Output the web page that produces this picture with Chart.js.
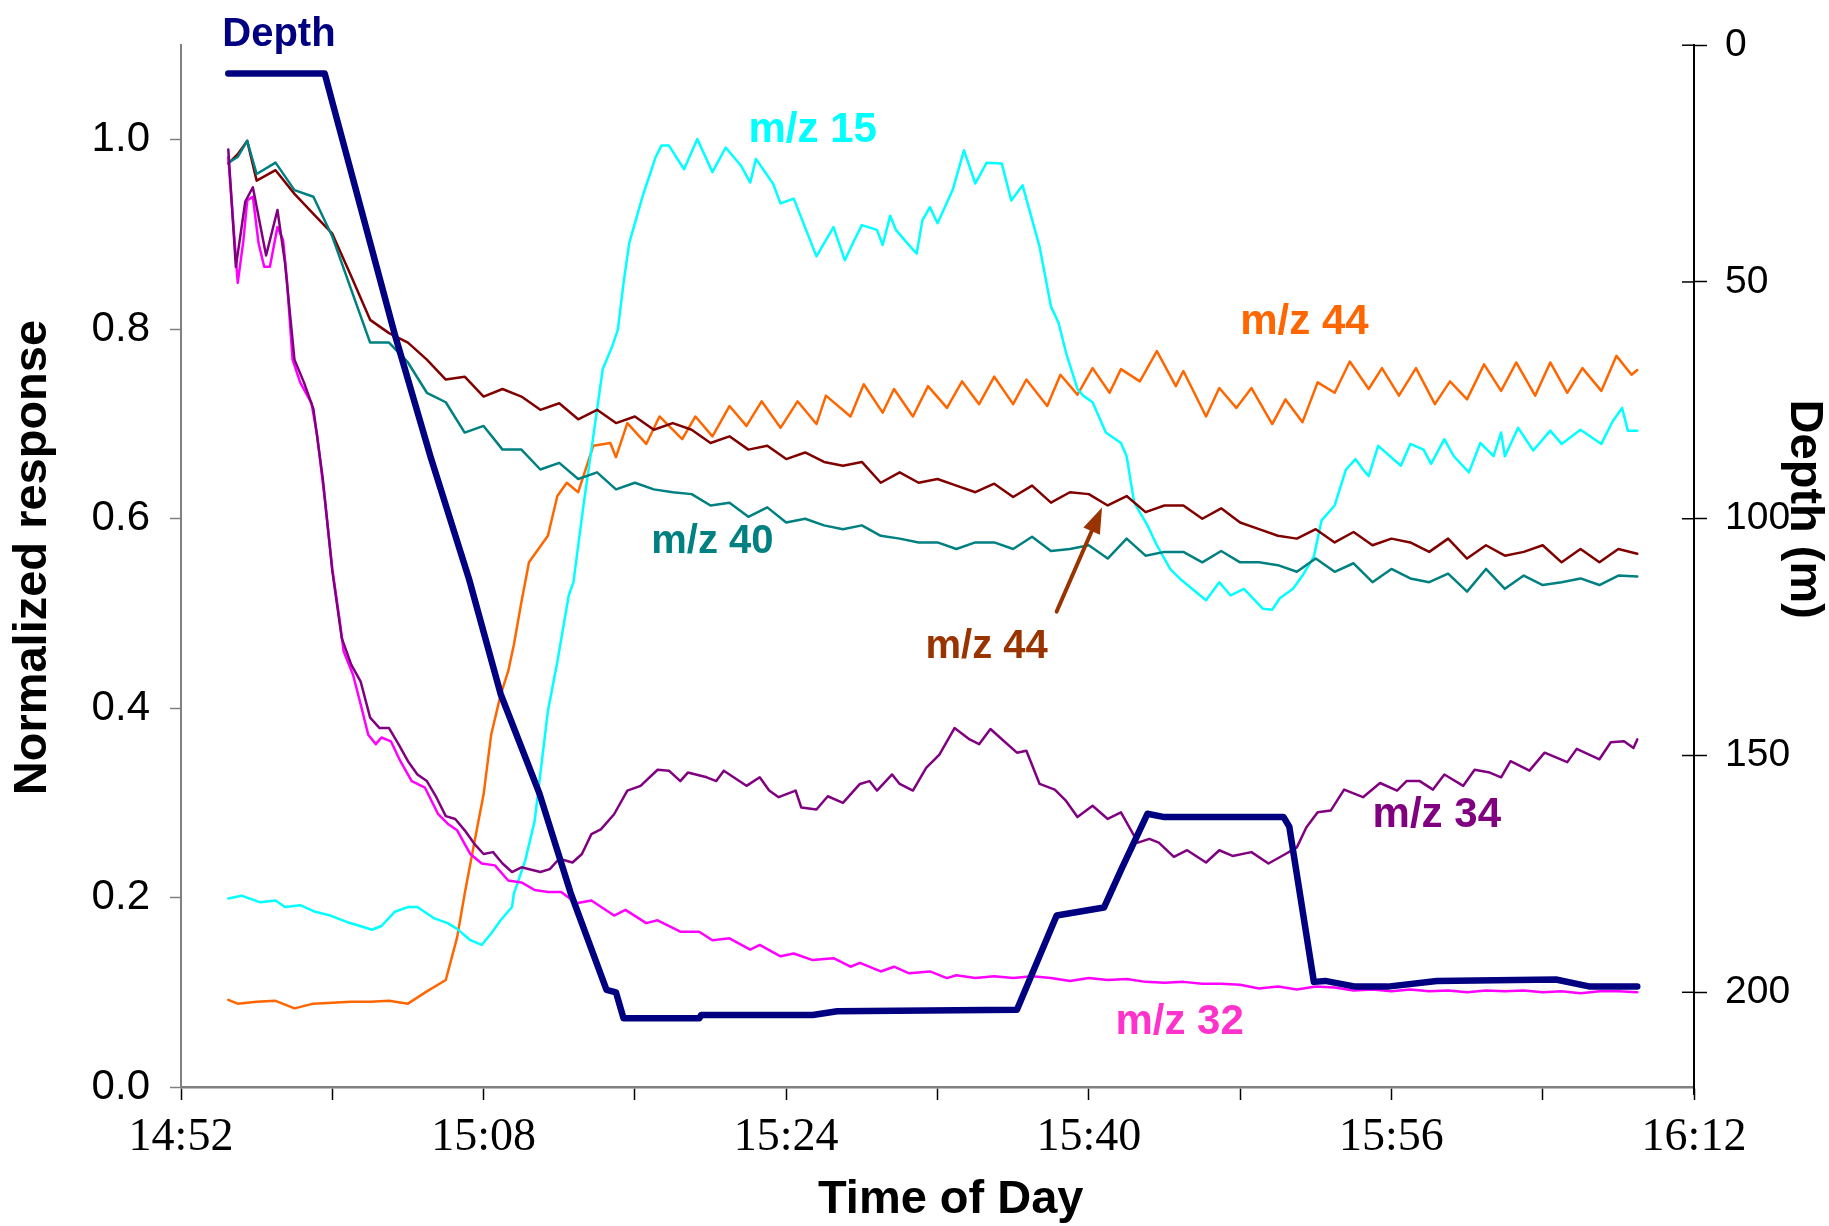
<!DOCTYPE html>
<html>
<head>
<meta charset="utf-8">
<title>Normalized response and depth vs time of day</title>
<script src="https://cdn.jsdelivr.net/npm/chart.js@4.4.1/dist/chart.umd.min.js"></script>
<style>
  html, body { margin: 0; padding: 0; background: #fff; }
  #wrap { width: 1829px; height: 1226px; position: relative; }
</style>
</head>
<body>
<div id="wrap"><canvas id="chart"></canvas></div>
<script>
// Time is in minutes after 14:52
const xTickMinutes = [0, 8, 16, 24, 32, 40, 48, 56, 64, 72, 80];
const xTickLabels = ['14:52', '15:08', '15:24', '15:40', '15:56', '16:12'];
const leftTicks = [0, 0.2, 0.4, 0.6, 0.8, 1.0];
const depthTicks = [0, 50, 100, 150, 200];

// Depth (m), right axis
const depthTime = [2.5, 7.6, 8.0, 11.3, 13.2, 15.25, 16.9, 18.95, 20.6, 22.5, 23.0, 23.4, 27.4, 27.5, 33.4, 34.7, 44.2, 46.3, 48.8, 49.75, 51.1, 52.0, 58.3, 58.6, 59.9, 60.5, 62.1, 63.8, 66.4, 72.7, 74.5, 77.0];
const depthValue = [6, 6, 12, 61, 87, 113, 137, 158, 179, 199.5, 200, 205.5, 205.5, 204.8, 204.8, 204, 203.7, 183.8, 182.1, 173.8, 162.3, 163, 163, 165, 197.8, 197.6, 198.8, 198.8, 197.6, 197.3, 198.8, 198.8];

// shared grid for m/z 44 (dark red) and m/z 40
const minuteGrid = [2.5, 3, 3.5, 4, 5, 6, 7, 8, 9, 10, 11, 12, 13, 14, 15, 16, 17, 18, 19, 20, 21, 22, 23, 24, 25, 26, 27, 28, 29, 30, 31, 32, 33, 34, 35, 36, 37, 38, 39, 40, 41, 42, 43, 44, 45, 46, 47, 48, 49, 50, 51, 52, 53, 54, 55, 56, 57, 58, 59, 60, 61, 62, 63, 64, 65, 66, 67, 68, 69, 70, 71, 72, 73, 74, 75, 76, 77];
const mz44RedValue = [0.975, 0.985, 0.999, 0.957, 0.968, 0.943, 0.922, 0.901, 0.856, 0.810, 0.796, 0.786, 0.768, 0.747, 0.750, 0.729, 0.737, 0.729, 0.715, 0.722, 0.705, 0.715, 0.701, 0.708, 0.694, 0.701, 0.694, 0.680, 0.687, 0.673, 0.677, 0.663, 0.670, 0.660, 0.656, 0.660, 0.638, 0.649, 0.638, 0.642, 0.635, 0.628, 0.637, 0.623, 0.635, 0.617, 0.628, 0.626, 0.614, 0.624, 0.607, 0.614, 0.614, 0.600, 0.611, 0.596, 0.589, 0.582, 0.579, 0.589, 0.575, 0.586, 0.572, 0.579, 0.575, 0.565, 0.579, 0.558, 0.572, 0.561, 0.565, 0.572, 0.554, 0.568, 0.554, 0.568, 0.563];
const mz40Value = [0.976, 0.982, 0.999, 0.964, 0.976, 0.947, 0.940, 0.898, 0.842, 0.786, 0.786, 0.765, 0.733, 0.723, 0.691, 0.698, 0.673, 0.673, 0.652, 0.659, 0.642, 0.649, 0.631, 0.638, 0.631, 0.628, 0.626, 0.614, 0.617, 0.602, 0.612, 0.596, 0.600, 0.593, 0.589, 0.593, 0.582, 0.579, 0.575, 0.575, 0.568, 0.575, 0.575, 0.568, 0.581, 0.566, 0.568, 0.572, 0.558, 0.579, 0.561, 0.565, 0.565, 0.554, 0.566, 0.554, 0.554, 0.551, 0.544, 0.558, 0.544, 0.553, 0.533, 0.547, 0.537, 0.533, 0.542, 0.523, 0.547, 0.526, 0.540, 0.530, 0.533, 0.537, 0.530, 0.540, 0.539];

// m/z 44 (orange)
const mz44Time = [2.5, 3, 4, 5, 6, 7, 8, 9, 10, 11, 12, 13, 14, 14.6, 15, 15.5, 16, 16.4, 16.9, 17.3, 17.6, 18, 18.4, 19.4, 19.9, 20.4, 21, 21.8, 22.7, 23, 23.6, 24.6, 25.3, 26.5, 27.2, 28.1, 29, 29.9, 30.7, 31.7, 32.6, 33.6, 34.1, 35.4, 36.1, 37.1, 37.7, 38.7, 39.5, 40.5, 41.3, 42.2, 43, 44, 44.7, 45.8, 46.5, 47.4, 48.2, 49.1, 49.7, 50.7, 51.6, 52.6, 53, 54.2, 54.9, 55.8, 56.6, 57.7, 58.4, 59.3, 60.1, 61, 61.8, 62.8, 63.5, 64.4, 65.3, 66.3, 67.1, 68, 68.9, 69.8, 70.6, 71.6, 72.4, 73.3, 74.1, 75.1, 75.9, 76.7, 77];
const mz44Value = [0.092, 0.088, 0.090, 0.091, 0.083, 0.088, 0.089, 0.090, 0.090, 0.091, 0.088, 0.101, 0.113, 0.158, 0.204, 0.257, 0.309, 0.372, 0.414, 0.439, 0.467, 0.512, 0.554, 0.582, 0.624, 0.638, 0.628, 0.677, 0.680, 0.665, 0.701, 0.679, 0.708, 0.684, 0.708, 0.687, 0.719, 0.698, 0.724, 0.696, 0.724, 0.700, 0.730, 0.708, 0.742, 0.712, 0.737, 0.708, 0.740, 0.717, 0.745, 0.721, 0.750, 0.721, 0.747, 0.719, 0.752, 0.731, 0.759, 0.733, 0.758, 0.745, 0.777, 0.740, 0.756, 0.708, 0.738, 0.717, 0.738, 0.700, 0.726, 0.702, 0.744, 0.733, 0.766, 0.737, 0.759, 0.730, 0.759, 0.721, 0.745, 0.726, 0.763, 0.735, 0.765, 0.730, 0.765, 0.733, 0.759, 0.735, 0.772, 0.752, 0.757];

// m/z 15
const mz15Time = [2.5, 3.2, 4.2, 5, 5.5, 6.3, 7.1, 7.9, 8.8, 9.3, 10.1, 10.6, 11.3, 12, 12.5, 13.4, 14.1, 14.6, 15.3, 15.9, 16.4, 16.9, 17.5, 17.6, 18.2, 18.7, 19.4, 19.9, 20.5, 20.75, 21.3, 21.8, 22.3, 22.8, 23.1, 23.4, 23.7, 24.1, 24.4, 25.1, 25.4, 25.8, 26.6, 27.3, 28.1, 28.8, 29.6, 30.1, 30.4, 31.3, 31.7, 32.4, 33.6, 34.5, 35.1, 35.6, 36, 36.8, 37.1, 37.5, 37.8, 38.4, 38.9, 39.2, 39.6, 40, 40.8, 41.4, 42, 42.6, 43.4, 43.9, 44.5, 45.4, 46, 46.4, 46.8, 47.4, 47.7, 48.2, 48.9, 49.7, 50, 50.4, 51.1, 51.6, 52.3, 52.8, 54.2, 54.9, 55.5, 56.2, 57.2, 57.7, 58.1, 58.8, 59.3, 59.9, 60.3, 61, 61.6, 62.1, 62.5, 62.8, 63.3, 64.5, 65, 65.7, 66.1, 66.8, 67.3, 68.1, 68.7, 69.4, 69.8, 70, 70.7, 71.5, 72.4, 73, 74, 75.1, 75.7, 76.2, 76.5, 77];
const mz15Value = [0.199, 0.202, 0.195, 0.197, 0.190, 0.192, 0.185, 0.181, 0.174, 0.171, 0.166, 0.170, 0.185, 0.190, 0.190, 0.178, 0.173, 0.167, 0.155, 0.150, 0.162, 0.176, 0.190, 0.204, 0.239, 0.281, 0.397, 0.449, 0.519, 0.533, 0.617, 0.687, 0.758, 0.782, 0.800, 0.849, 0.891, 0.919, 0.940, 0.982, 0.994, 0.994, 0.969, 1.001, 0.966, 0.992, 0.973, 0.955, 0.980, 0.954, 0.933, 0.938, 0.877, 0.908, 0.873, 0.894, 0.910, 0.905, 0.889, 0.920, 0.905, 0.891, 0.880, 0.915, 0.929, 0.912, 0.947, 0.989, 0.954, 0.976, 0.975, 0.936, 0.952, 0.887, 0.824, 0.807, 0.775, 0.737, 0.730, 0.723, 0.691, 0.680, 0.666, 0.617, 0.593, 0.572, 0.547, 0.537, 0.514, 0.533, 0.519, 0.526, 0.505, 0.504, 0.516, 0.526, 0.540, 0.560, 0.598, 0.614, 0.652, 0.663, 0.652, 0.645, 0.677, 0.656, 0.679, 0.673, 0.658, 0.684, 0.666, 0.649, 0.680, 0.666, 0.691, 0.666, 0.696, 0.672, 0.693, 0.679, 0.694, 0.679, 0.703, 0.717, 0.693, 0.693];

// m/z 34
const mz34Time = [2.5, 2.9, 3.4, 3.8, 4.5, 5.1, 5.5, 6, 6.5, 7, 7.5, 8, 8.5, 9, 9.5, 10, 10.5, 11, 11.5, 12, 12.5, 13, 13.5, 14, 14.5, 15, 15.5, 16, 16.5, 17, 17.5, 18, 19, 19.5, 20, 20.7, 21.2, 21.7, 22.2, 22.9, 23.6, 24.3, 25.2, 25.8, 26.4, 26.8, 27.8, 28.3, 28.7, 29.9, 30.6, 31.1, 31.6, 32.5, 32.8, 33.6, 34.2, 35, 35.9, 36.4, 36.8, 37.6, 38, 38.7, 39.4, 40.1, 40.9, 41.7, 42.2, 42.8, 43.3, 44.2, 44.7, 45.4, 46.2, 46.8, 47.4, 48.2, 49, 49.7, 50.6, 51.2, 51.7, 52.5, 53.2, 54.2, 54.9, 55.6, 56.6, 57.5, 58.4, 59, 59.5, 60.1, 60.8, 61.5, 62.5, 63.4, 64.3, 64.8, 65.5, 66.2, 66.8, 67.8, 68.4, 69.2, 69.8, 70.3, 71.3, 72.1, 73.3, 73.8, 75, 75.6, 76.3, 76.8, 77];
const mz34Value = [0.990, 0.866, 0.935, 0.950, 0.878, 0.926, 0.870, 0.768, 0.744, 0.716, 0.642, 0.545, 0.474, 0.446, 0.428, 0.390, 0.379, 0.379, 0.362, 0.344, 0.330, 0.323, 0.306, 0.286, 0.283, 0.271, 0.257, 0.246, 0.248, 0.236, 0.227, 0.232, 0.227, 0.230, 0.241, 0.237, 0.246, 0.267, 0.272, 0.288, 0.313, 0.318, 0.335, 0.334, 0.323, 0.332, 0.327, 0.323, 0.334, 0.318, 0.327, 0.313, 0.306, 0.313, 0.295, 0.293, 0.307, 0.300, 0.320, 0.323, 0.313, 0.330, 0.320, 0.313, 0.337, 0.351, 0.379, 0.367, 0.362, 0.378, 0.369, 0.353, 0.355, 0.320, 0.314, 0.302, 0.285, 0.297, 0.283, 0.290, 0.258, 0.262, 0.258, 0.243, 0.250, 0.237, 0.250, 0.244, 0.248, 0.236, 0.246, 0.253, 0.274, 0.290, 0.292, 0.314, 0.306, 0.321, 0.313, 0.323, 0.323, 0.314, 0.330, 0.318, 0.335, 0.332, 0.327, 0.344, 0.334, 0.353, 0.343, 0.357, 0.346, 0.364, 0.365, 0.358, 0.367];

// m/z 32
const mz32Time = [2.5, 3.0, 3.3, 3.5, 3.8, 4.1, 4.4, 4.7, 5.1, 5.4, 5.6, 5.9, 6.3, 6.9, 7.2, 7.6, 8.0, 8.4, 8.6, 9.1, 9.5, 9.9, 10.3, 10.6, 11.1, 11.6, 12.2, 12.9, 13.6, 14.1, 14.6, 15.3, 15.9, 16.6, 17.3, 18, 18.7, 19.4, 20.1, 20.9, 21.7, 22.9, 23.5, 24.6, 25.2, 26.4, 27.4, 28.1, 29, 30.1, 30.6, 31.7, 32.4, 33.4, 34.5, 35.4, 35.9, 37, 37.7, 38.5, 39.6, 40.5, 41, 42, 43, 44, 45, 46, 47, 48, 49, 50, 51, 52, 53, 54, 55, 56, 57, 58, 59, 60, 61, 62, 63, 64, 65, 66, 67, 68, 69, 70, 71, 72, 73, 74, 75, 76, 77];
const mz32Value = [0.982, 0.849, 0.894, 0.936, 0.940, 0.891, 0.866, 0.866, 0.908, 0.894, 0.852, 0.768, 0.744, 0.722, 0.688, 0.621, 0.547, 0.491, 0.460, 0.435, 0.404, 0.372, 0.362, 0.369, 0.365, 0.344, 0.323, 0.316, 0.288, 0.278, 0.271, 0.246, 0.236, 0.234, 0.218, 0.216, 0.208, 0.206, 0.206, 0.194, 0.197, 0.181, 0.187, 0.173, 0.176, 0.164, 0.164, 0.155, 0.157, 0.145, 0.150, 0.138, 0.141, 0.134, 0.136, 0.127, 0.131, 0.122, 0.127, 0.120, 0.122, 0.115, 0.118, 0.115, 0.117, 0.115, 0.117, 0.115, 0.112, 0.115, 0.113, 0.114, 0.111, 0.110, 0.111, 0.109, 0.109, 0.108, 0.104, 0.106, 0.103, 0.106, 0.105, 0.102, 0.103, 0.101, 0.103, 0.101, 0.102, 0.100, 0.102, 0.101, 0.102, 0.100, 0.101, 0.099, 0.101, 0.101, 0.100];

// in-plot labels, placed in axis units (minutes, normalized response)
const seriesLabels = [
    { text: 'Depth', t: 5.18, v: 1.111, color: '#000080', size: 40 },
    { text: 'm/z 15', t: 33.4, v: 1.010, color: '#00FFFF', size: 42 },
    { text: 'm/z 44', t: 59.4, v: 0.807, color: '#FF6600', size: 42 },
    { text: 'm/z 40', t: 28.1, v: 0.576, color: '#008080', size: 40 },
    { text: 'm/z 44', t: 42.6, v: 0.465, color: '#993300', size: 40 },
    { text: 'm/z 34', t: 66.4, v: 0.287, color: '#800080', size: 42 },
    { text: 'm/z 32', t: 52.8, v: 0.068, color: '#FF33CC', size: 42 }
];
const arrowFrom = { t: 46.3, v: 0.502 };
const arrowTo = { t: 48.7, v: 0.612 };

const SANS = "'Liberation Sans', Arial, sans-serif";
const SERIF = "'Liberation Serif', 'Times New Roman', serif";

function pts(t, v) {
    return t.map((x, i) => ({ x: x, y: v[i] }));
}

function line(label, t, v, color, width, axis) {
    return {
        label: label,
        data: pts(t, v),
        borderColor: color,
        backgroundColor: color,
        borderWidth: width,
        pointRadius: 0,
        tension: 0,
        fill: false,
        yAxisID: axis,
        borderJoinStyle: 'round',
        borderCapStyle: 'round'
    };
}

function rotatedText(ctx, text, cx, cy, angle) {
    ctx.save();
    ctx.translate(cx, cy);
    ctx.rotate(angle);
    ctx.fillText(text, 0, 0);
    ctx.restore();
}

// labels, arrow, axis titles and the inner half of the depth ticks
const decorations = {
    id: 'decorations',
    afterDraw(chart) {
        const { ctx } = chart;
        const x = chart.scales.x, y = chart.scales.y, y2 = chart.scales.y2;
        ctx.save();

        ctx.strokeStyle = '#000';
        ctx.lineWidth = 1.5;
        depthTicks.forEach(d => {
            const py = y2.getPixelForValue(d);
            ctx.beginPath();
            ctx.moveTo(y2.left - 12, py);
            ctx.lineTo(y2.left, py);
            ctx.stroke();
        });
        // right axis runs a little below the time axis
        ctx.lineWidth = 2;
        ctx.beginPath();
        ctx.moveTo(y2.left, y2.bottom);
        ctx.lineTo(y2.left, y2.bottom + 8);
        ctx.stroke();

        ctx.textAlign = 'center';
        ctx.textBaseline = 'middle';
        seriesLabels.forEach(l => {
            ctx.font = 'bold ' + l.size + 'px ' + SANS;
            ctx.fillStyle = l.color;
            ctx.fillText(l.text, x.getPixelForValue(l.t), y.getPixelForValue(l.v));
        });

        // arrow to the dark red m/z 44 trace
        const x0 = x.getPixelForValue(arrowFrom.t), y0 = y.getPixelForValue(arrowFrom.v);
        const x1 = x.getPixelForValue(arrowTo.t), y1 = y.getPixelForValue(arrowTo.v);
        const ang = Math.atan2(y1 - y0, x1 - x0);
        const head = 26, half = 9;
        const bx = x1 - head * Math.cos(ang), by = y1 - head * Math.sin(ang);
        ctx.strokeStyle = '#993300';
        ctx.fillStyle = '#993300';
        ctx.lineWidth = 4;
        ctx.lineCap = 'round';
        ctx.beginPath();
        ctx.moveTo(x0, y0);
        ctx.lineTo(bx, by);
        ctx.stroke();
        ctx.beginPath();
        ctx.moveTo(x1, y1);
        ctx.lineTo(bx + half * Math.sin(ang), by - half * Math.cos(ang));
        ctx.lineTo(bx - half * Math.sin(ang), by + half * Math.cos(ang));
        ctx.closePath();
        ctx.fill();

        // axis titles
        ctx.fillStyle = '#000';
        ctx.font = 'bold 47px ' + SANS;
        rotatedText(ctx, 'Normalized response', 33, y.getPixelForValue(0.559), -Math.PI / 2);
        rotatedText(ctx, 'Time of Day', x.getPixelForValue(40.7), chart.height - 26, 0);
        rotatedText(ctx, 'Depth (m)', y2.right - 25, y2.getPixelForValue(98), Math.PI / 2);

        ctx.restore();
    }
};

Chart.defaults.color = '#000';

new Chart(document.getElementById('chart'), {
    type: 'line',
    data: {
        datasets: [
            line('Depth', depthTime, depthValue, '#000080', 6.5, 'y2'),
            line('m/z 34', mz34Time, mz34Value, '#800080', 2.5, 'y'),
            line('m/z 32', mz32Time, mz32Value, '#FF00FF', 2.5, 'y'),
            line('m/z 40', minuteGrid, mz40Value, '#008080', 2.5, 'y'),
            line('m/z 44 (red)', minuteGrid, mz44RedValue, '#800000', 2.5, 'y'),
            line('m/z 15', mz15Time, mz15Value, '#00FFFF', 2.5, 'y'),
            line('m/z 44', mz44Time, mz44Value, '#FF6600', 2.5, 'y')
        ]
    },
    options: {
        responsive: true,
        maintainAspectRatio: false,
        animation: false,
        devicePixelRatio: 1,
        layout: { padding: { top: 43, left: 0, right: 0, bottom: 0 } },
        plugins: {
            legend: { display: false },
            tooltip: { enabled: false }
        },
        scales: {
            x: {
                type: 'linear',
                min: 0,
                max: 80,
                afterBuildTicks: s => { s.ticks = xTickMinutes.map(v => ({ value: v })); },
                afterFit: s => { s.height = 139; },
                ticks: {
                    autoSkip: false,
                    maxRotation: 0,
                    padding: 10,
                    font: { family: SERIF, size: 46 },
                    callback: v => (v % 16 === 0 ? xTickLabels[v / 16] : '')
                },
                grid: { drawOnChartArea: false, tickLength: 13, color: '#000', tickWidth: 1.5 },
                border: { color: '#808080', width: 2.5 }
            },
            y: {
                type: 'linear',
                position: 'left',
                min: 0,
                max: 1.1,
                afterBuildTicks: s => { s.ticks = leftTicks.map(v => ({ value: v })); },
                afterFit: s => { s.width = 181; },
                ticks: {
                    padding: 20,
                    font: { family: SANS, size: 42 },
                    callback: v => v.toFixed(1)
                },
                grid: { drawOnChartArea: false, tickLength: 11, color: '#808080', tickWidth: 1.5 },
                border: { color: '#808080', width: 2 }
            },
            y2: {
                type: 'linear',
                position: 'right',
                min: 0,
                max: 220,
                reverse: true,
                afterBuildTicks: s => { s.ticks = depthTicks.map(v => ({ value: v })); },
                afterFit: s => { s.width = 135; },
                ticks: {
                    padding: 18,
                    font: { family: SANS, size: 39 },
                    callback: v => String(v)
                },
                grid: { drawOnChartArea: false, tickLength: 13, color: '#000', tickWidth: 1.5 },
                border: { color: '#000', width: 2 }
            }
        }
    },
    plugins: [decorations]
});
</script>
</body>
</html>
